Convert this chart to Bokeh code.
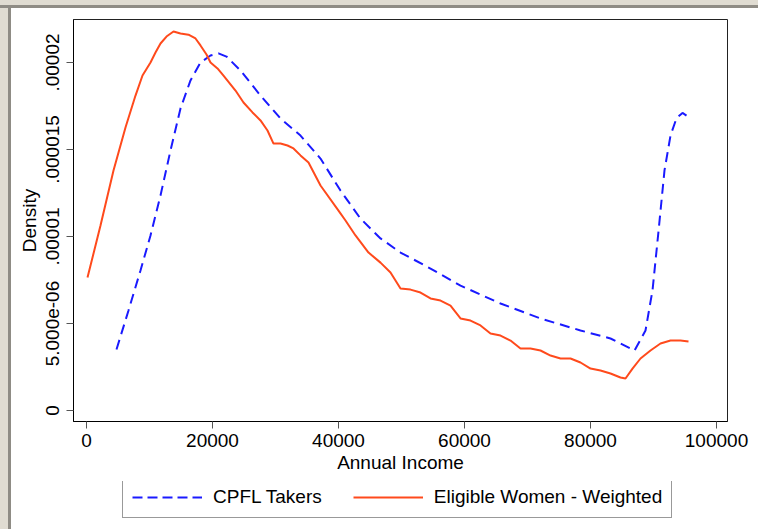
from bokeh.plotting import figure
from bokeh.models import Range1d, FixedTicker, Legend, LegendItem, BasicTickFormatter, Div
from bokeh.layouts import column, row
from bokeh.embed import file_html
from bokeh.resources import INLINE

# CPFL Takers (dashed blue)
cpfl_income = [4762, 6667, 8571, 10159, 11746, 13333, 14921, 16508, 18095, 19683,
               20952, 22222, 24444, 27619, 30794, 33968, 37143, 40317, 43492, 46667,
               49841, 54603, 59365, 65714, 72063, 78413, 83175, 86984, 88730, 89841,
               90794, 91746, 92698, 93651, 94603, 95238]
cpfl_density = [3.51e-6, 5.75e-6, 8.05e-6, 10.06e-6, 12.36e-6, 14.94e-6, 17.36e-6, 18.97e-6, 20.0e-6, 20.4e-6,
                20.52e-6, 20.34e-6, 19.54e-6, 18.10e-6, 16.78e-6, 15.8e-6, 14.48e-6, 12.64e-6, 11.03e-6, 9.89e-6,
                9.08e-6, 8.16e-6, 7.18e-6, 6.15e-6, 5.29e-6, 4.6e-6, 4.14e-6, 3.45e-6, 4.6e-6, 6.9e-6,
                10.3e-6, 13.8e-6, 15.8e-6, 16.8e-6, 17.1e-6, 16.95e-6]

# Eligible Women - Weighted (solid orange)
elig_income = [159, 2222, 4286, 6190, 7778, 8889, 10159, 10952, 11746, 12698,
               13810, 14921, 16190, 17302, 18095, 19048, 19683, 20794, 21746, 23651,
               24921, 26349, 27619, 28730, 29683, 30794, 31905, 32857, 33968, 35238,
               37143, 40000, 41111, 42698, 44762, 46667, 48254, 49841, 51429, 53016,
               54603, 56190, 57778, 59365, 60952, 62540, 64127, 65714, 67302, 68889,
               70476, 72063, 73651, 75238, 76825, 78413, 80000, 81587, 83175, 84762,
               85556, 86667, 87937, 89524, 91111, 92698, 94286, 95556]
elig_density = [7.64e-6, 10.63e-6, 13.79e-6, 16.26e-6, 18.1e-6, 19.25e-6, 20.0e-6, 20.57e-6, 21.09e-6, 21.49e-6,
                21.78e-6, 21.67e-6, 21.6e-6, 21.38e-6, 20.98e-6, 20.46e-6, 20.0e-6, 19.66e-6, 19.25e-6, 18.39e-6,
                17.7e-6, 17.13e-6, 16.67e-6, 16.09e-6, 15.34e-6, 15.34e-6, 15.23e-6, 15.06e-6, 14.66e-6, 14.25e-6,
                12.93e-6, 11.49e-6, 10.92e-6, 10.06e-6, 9.08e-6, 8.5e-6, 7.93e-6, 7.01e-6, 6.95e-6, 6.78e-6,
                6.44e-6, 6.32e-6, 6.03e-6, 5.29e-6, 5.17e-6, 4.89e-6, 4.43e-6, 4.31e-6, 4.02e-6, 3.56e-6,
                3.56e-6, 3.45e-6, 3.16e-6, 2.99e-6, 2.99e-6, 2.76e-6, 2.41e-6, 2.3e-6, 2.13e-6, 1.9e-6,
                1.84e-6, 2.41e-6, 2.99e-6, 3.45e-6, 3.85e-6, 4.02e-6, 4.02e-6, 3.97e-6]

x_ticks = [0, 20000, 40000, 60000, 80000, 100000]
y_ticks = [0, 5e-6, 1e-5, 1.5e-5, 2e-5]
y_tick_labels = ["0", "5.000e-06", ".00001", ".000015", ".00002"]
series_names = ["CPFL Takers", "Eligible Women - Weighted"]

FONT = "Liberation Sans"
BLUE = "#1a1aff"
ORANGE = "#ff4a1c"
BEIGE = "#e0dcd2"
FRAME_GRAY = "#8f8c85"

p = figure(width=747, height=473, output_backend="svg", toolbar_location=None,
           x_range=Range1d(-2063, 101746), y_range=Range1d(-0.63e-6, 22.47e-6),
           min_border_left=62, min_border_right=31, min_border_top=11, min_border_bottom=60)

p.background_fill_color = "white"
p.border_fill_color = "white"
p.outline_line_color = "#222222"
p.outline_line_width = 1
p.xgrid.visible = False
p.ygrid.visible = False

r1 = p.line(cpfl_income, cpfl_density, line_color=BLUE, line_width=2, line_dash="10 6")
r2 = p.line(elig_income, elig_density, line_color=ORANGE, line_width=2)

for ax in (p.xaxis[0], p.yaxis[0]):
    ax.major_label_text_font = FONT
    ax.major_label_text_font_size = "19px"
    ax.major_label_text_color = "black"
    ax.axis_label_text_font = FONT
    ax.axis_label_text_font_size = "19px"
    ax.axis_label_text_font_style = "normal"
    ax.axis_label_text_color = "black"
    ax.axis_line_color = "black"
    ax.axis_line_width = 1
    ax.major_tick_line_color = "#555555"
    ax.major_tick_out = 7
    ax.major_tick_in = 0
    ax.minor_tick_line_color = None

p.xaxis.ticker = FixedTicker(ticks=x_ticks)
p.xaxis.formatter = BasicTickFormatter(use_scientific=False)
p.xaxis.axis_label = "Annual Income"
p.xaxis.major_label_standoff = 5
p.xaxis.axis_label_standoff = 2

p.yaxis.ticker = FixedTicker(ticks=y_ticks)
p.yaxis.major_label_overrides = {t: l for t, l in zip(y_ticks, y_tick_labels)}
p.yaxis.major_label_orientation = "vertical"
p.yaxis.axis_label = "Density"
p.yaxis.major_label_standoff = 7
p.yaxis.axis_label_standoff = 4

# legend panel below the chart (series drawn out of view; only the legend shows)
lf = figure(width=747, height=48, output_backend="svg", toolbar_location=None,
            x_range=Range1d(-2063, 101746), y_range=Range1d(1.0, 2.0),
            min_border_left=62, min_border_right=31, min_border_top=0, min_border_bottom=0)
lf.axis.visible = False
lf.xgrid.visible = False
lf.ygrid.visible = False
lf.outline_line_color = None
lf.background_fill_color = "white"
lf.border_fill_color = "white"
lr1 = lf.line(cpfl_income, cpfl_density, line_color=BLUE, line_width=2, line_dash="10 5")
lr2 = lf.line(elig_income, elig_density, line_color=ORANGE, line_width=2)

legend = Legend(items=[LegendItem(label=series_names[0], renderers=[lr1]),
                       LegendItem(label=series_names[1], renderers=[lr2])],
                orientation="horizontal", location=(49, 11))
legend.label_text_font = FONT
legend.label_text_font_size = "19px"
legend.label_text_color = "black"
legend.glyph_width = 70
legend.glyph_height = 20
legend.label_standoff = 11
legend.spacing = 31
legend.padding = 9
legend.margin = 0
legend.border_line_color = "#333333"
legend.border_line_width = 1
legend.background_fill_color = "white"
lf.add_layout(legend)

top_bar = Div(width=758, height=8, margin=0, styles={
    "background": f"linear-gradient(to bottom, {BEIGE} 0px, {BEIGE} 5px, {FRAME_GRAY} 5px, {FRAME_GRAY} 8px)"})
left_bar = Div(width=11, height=521, margin=0, styles={
    "background": f"linear-gradient(to right, {BEIGE} 0px, {BEIGE} 8px, {FRAME_GRAY} 8px, {FRAME_GRAY} 11px)"})

layout = column(top_bar, row(left_bar, column(p, lf, spacing=0), spacing=0), spacing=0)

open("out.html", "w").write(file_html(layout, INLINE))
